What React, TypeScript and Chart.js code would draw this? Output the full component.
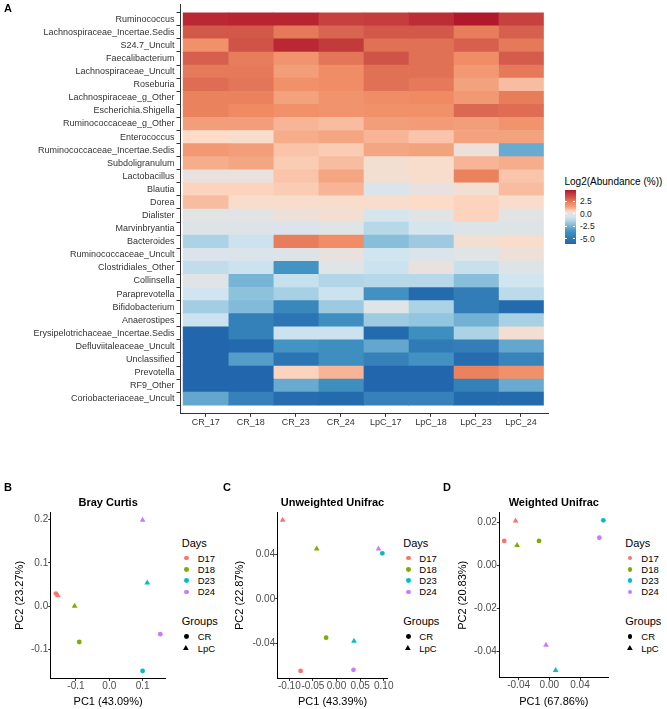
import React, { useEffect, useRef } from 'react';
import { Chart, registerables } from 'chart.js';

Chart.register(...registerables);

const FONT = '"Liberation Sans", Arial, Helvetica, sans-serif';

// ---------------- Heatmap data ----------------
const taxa = [
  'Ruminococcus',
  'Lachnospiraceae_Incertae.Sedis',
  'S24.7_Uncult',
  'Faecalibacterium',
  'Lachnospiraceae_Uncult',
  'Roseburia',
  'Lachnospiraceae_g_Other',
  'Escherichia.Shigella',
  'Ruminococcaceae_g_Other',
  'Enterococcus',
  'Ruminococcaceae_Incertae.Sedis',
  'Subdoligranulum',
  'Lactobacillus',
  'Blautia',
  'Dorea',
  'Dialister',
  'Marvinbryantia',
  'Bacteroides',
  'Ruminococcaceae_Uncult',
  'Clostridiales_Other',
  'Collinsella',
  'Paraprevotella',
  'Bifidobacterium',
  'Anaerostipes',
  'Erysipelotrichaceae_Incertae.Sedis',
  'Defluviitaleaceae_Uncult',
  'Unclassified',
  'Prevotella',
  'RF9_Other',
  'Coriobacteriaceae_Uncult',
];

const samples = ['CR_17', 'CR_18', 'CR_23', 'CR_24', 'LpC_17', 'LpC_18', 'LpC_23', 'LpC_24'];

const CR_17 = [4.3, 3.2, 1.8, 3.0, 2.4, 2.7, 2.2, 2.2, 1.4, 0.5, 1.6, 1.1, 0.1, 0.6, 0.9, -0.1, -0.3, -1.5, -0.4, -1.1, -0.2, -0.8, -1.7, -0.9, -6.0, -6.0, -6.0, -6.0, -6.0, -2.9];
const CR_18 = [4.4, 3.2, 3.3, 2.3, 2.4, 2.5, 2.2, 2.0, 1.4, 0.4, 1.4, 1.2, 0.1, 0.6, 0.4, -0.1, -0.3, -0.9, -0.4, -0.9, -2.5, -2.1, -2.3, -4.6, -4.6, -5.9, -3.2, -6.0, -6.0, -4.5];
const CR_23 = [4.4, 2.4, 4.3, 1.7, 1.4, 1.8, 1.3, 1.8, 1.0, 1.1, 0.8, 0.7, 0.8, 0.7, 0.4, 0.2, -0.4, 2.3, -0.3, -3.5, -1.0, -1.6, -4.2, -5.2, -0.9, -3.5, -5.2, 0.6, -2.8, -5.7];
const CR_24 = [3.7, 2.9, 3.9, 2.5, 1.9, 1.9, 1.7, 1.7, 0.9, 1.2, 0.7, 0.9, 1.2, 1.0, 0.4, 0.3, -0.2, 1.9, 0.1, -0.2, -1.4, -0.9, -1.8, -3.8, -0.9, -3.8, -3.8, 1.0, -3.8, -5.8];
const LpC_17 = [3.8, 3.2, 2.6, 3.3, 2.6, 2.6, 1.9, 1.8, 1.4, 1.0, 1.2, 0.3, 0.3, -0.4, 0.4, -0.6, -1.3, -2.2, -0.8, -0.9, -1.3, -3.6, -0.2, -1.8, -5.8, -2.9, -4.5, -6.0, -6.0, -4.5];
const LpC_18 = [4.2, 3.2, 2.6, 2.6, 2.6, 2.4, 2.0, 1.8, 1.5, 0.8, 1.3, 0.4, 0.4, 0.1, 0.5, -0.1, -0.6, -1.8, -0.4, 0.1, -1.3, -5.8, -1.5, -2.0, -3.8, -4.9, -3.6, -6.0, -6.0, -4.5];
const LpC_23 = [4.7, 2.3, 3.0, 1.9, 1.6, 1.3, 1.6, 2.8, 1.4, 1.3, 0.2, 1.0, 2.2, 0.3, 0.6, 0.6, -0.3, 0.3, -0.2, -1.0, -2.2, -4.8, -4.8, -2.6, -1.5, -4.7, -5.7, 2.2, -4.6, -5.8];
const LpC_24 = [3.7, 3.0, 2.4, 3.1, 2.4, 0.9, 2.3, 2.7, 1.7, 1.3, -2.8, 1.1, 0.8, 0.9, 0.4, -0.1, -0.3, 0.4, 0.2, -0.3, -0.8, -1.2, -5.8, -1.6, 0.3, -2.9, -4.4, 1.8, -2.8, -5.8];

const heatColumns = [CR_17, CR_18, CR_23, CR_24, LpC_17, LpC_18, LpC_23, LpC_24];

const colorbarTicks = [2.5, 0, -2.5, -5];
const colorbarMin = -6.06;
const colorbarMax = 4.7;

// ---------------- PCoA data (sample order = samples) ----------------
const days = ['D17', 'D18', 'D23', 'D24'];
const groups = ['CR', 'LpC'];

const brayPC1 = [-0.160, -0.090, 0.100, 0.153, -0.154, -0.104, 0.114, 0.100];
const brayPC2 = [0.029, -0.083, -0.150, -0.065, 0.024, 0.000, 0.054, 0.199];
const brayXTicks = [-0.1, 0, 0.1];
const brayYTicks = [-0.1, 0, 0.1, 0.2];

const unwPC1 = [-0.076, -0.022, 0.097, 0.036, -0.114, -0.042, 0.037, 0.089];
const unwPC2 = [-0.065, -0.035, 0.041, -0.064, 0.071, 0.045, -0.038, 0.045];
const unwXTicks = [-0.1, -0.05, 0, 0.05, 0.1];
const unwYTicks = [-0.04, 0, 0.04];

const wPC1 = [-0.0587, -0.0134, 0.0704, 0.0652, -0.044, -0.042, 0.0083, -0.0043];
const wPC2 = [0.0113, 0.0113, 0.0209, 0.0128, 0.0207, 0.0093, -0.0488, -0.0371];
const wXTicks = [-0.04, 0, 0.04];
const wYTicks = [-0.04, -0.02, 0, 0.02];

// ---------------- Styles ----------------
const dayColors = ['#F8766D', '#7CAE00', '#00BFC4', '#C77CFF'];

const colorStops: [number, number[]][] = [
  [-6.06, [33, 102, 172]],
  [-3.5, [67, 147, 195]],
  [-2.0, [146, 197, 222]],
  [-0.8, [209, 229, 240]],
  [0, [227, 227, 227]],
  [0.5, [253, 219, 199]],
  [1.2, [244, 165, 130]],
  [2.0, [239, 138, 98]],
  [3.0, [214, 96, 77]],
  [4.7, [178, 24, 43]],
];

function colorFor(v: number): string {
  const x = Math.max(colorStops[0][0], Math.min(colorStops[colorStops.length - 1][0], v));
  for (let i = 1; i < colorStops.length; i++) {
    const [v1, c1] = colorStops[i];
    const [v0, c0] = colorStops[i - 1];
    if (x <= v1) {
      const t = (x - v0) / (v1 - v0);
      const c = c0.map((a, k) => Math.round(a + (c1[k] - a) * t));
      return `rgb(${c[0]},${c[1]},${c[2]})`;
    }
  }
  const c = colorStops[colorStops.length - 1][1];
  return `rgb(${c[0]},${c[1]},${c[2]})`;
}

const dayOf = (i: number) => days.indexOf('D' + samples[i].split('_')[1]);
const groupOf = (i: number) => groups.indexOf(samples[i].split('_')[0]);

function fmt(v: number, dec: number) {
  const x = Math.abs(v) < 1e-12 ? 0 : v;
  return x.toFixed(dec);
}

function expand(vals: number[]): [number, number] {
  const mn = Math.min(...vals);
  const mx = Math.max(...vals);
  const r = mx - mn;
  return [mn - 0.05 * r, mx + 0.05 * r];
}

// ---------------- Layouts ----------------
const heatLayout = { left: 0, top: 0, width: 560, height: 440, plotLeft: 180, plotRight: 548, plotTop: 4.6, plotBottom: 413.4 };

const SC_TOP = 490;
const SC_H = 219;

type ScatterSpec = {
  title: string; pc1: number[]; pc2: number[]; xTicks: number[]; yTicks: number[];
  xDec: number; yDec: number; xTitle: string; yTitle: string;
  canvasLeft: number; canvasWidth: number; plotLeft: number; plotRight: number;
  plotTop: number; plotBottom: number; yTitleX: number;
  legendTitleX: number; legendMarkerX: number; legendTextX: number;
};

const scatterSpecs: ScatterSpec[] = [
  {
    title: 'Bray Curtis', pc1: brayPC1, pc2: brayPC2, xTicks: brayXTicks, yTicks: brayYTicks,
    xDec: 1, yDec: 1, xTitle: 'PC1 (43.09%)', yTitle: 'PC2 (23.27%)',
    canvasLeft: 0, canvasWidth: 175, plotLeft: 50.7, plotRight: 165.5, plotTop: 512.5, plotBottom: 678.5, yTitleX: 20,
    legendTitleX: 181.7, legendMarkerX: 186.3, legendTextX: 197.7,
  },
  {
    title: 'Unweighted Unifrac', pc1: unwPC1, pc2: unwPC2, xTicks: unwXTicks, yTicks: unwYTicks,
    xDec: 2, yDec: 2, xTitle: 'PC1 (43.39%)', yTitle: 'PC2 (22.87%)',
    canvasLeft: 222, canvasWidth: 178, plotLeft: 277.7, plotRight: 387.3, plotTop: 512.5, plotBottom: 678.5, yTitleX: 240,
    legendTitleX: 403.3, legendMarkerX: 408.3, legendTextX: 419.3,
  },
  {
    title: 'Weighted Unifrac', pc1: wPC1, pc2: wPC2, xTicks: wXTicks, yTicks: wYTicks,
    xDec: 2, yDec: 2, xTitle: 'PC1 (67.86%)', yTitle: 'PC2 (20.83%)',
    canvasLeft: 444, canvasWidth: 172, plotLeft: 499.3, plotRight: 608.3, plotTop: 512.8, plotBottom: 677.8, yTitleX: 462.7,
    legendTitleX: 625.3, legendMarkerX: 630, legendTextX: 641.3,
  },
];

// ---------------- Chart configs ----------------
function heatmapConfig(): any {
  const L = heatLayout;
  const datasets = samples.map((s, j) => ({
    label: s,
    data: taxa.map((_, i) => ({ x: 1, y: i })),
    backgroundColor: taxa.map((_, i) => colorFor(heatColumns[j][i])),
    borderWidth: 0,
    barPercentage: 1,
    categoryPercentage: 1,
  }));
  const tickFont = { family: FONT, size: 9, lineHeight: 1 };
  return {
    type: 'bar',
    data: { datasets },
    options: {
      indexAxis: 'y',
      animation: false,
      responsive: false,
      events: [],
      layout: { padding: { left: 0, top: L.plotTop - L.top, right: L.left + L.width - L.plotRight, bottom: 0 } },
      plugins: { legend: { display: false }, tooltip: { enabled: false }, title: { display: false } },
      scales: {
        x: {
          type: 'linear', stacked: true, min: -0.07, max: 8.1,
          afterBuildTicks: (s: any) => { s.ticks = samples.map((_, j) => ({ value: j + 0.5 })); },
          afterFit: (s: any) => { s.height = L.top + L.height - L.plotBottom; s.paddingLeft = 0; s.paddingRight = 0; },
          ticks: { autoSkip: false, maxRotation: 0, padding: 1.3, color: '#333', font: tickFont, callback: (_v: any, i: number) => samples[i] },
          grid: { display: true, drawOnChartArea: false, drawTicks: true, tickLength: 3.5, tickColor: '#333', tickWidth: 1 },
          border: { display: true, color: '#333', width: 1 },
        },
        y: {
          type: 'linear', stacked: true, reverse: true, min: -0.6, max: taxa.length - 0.4,
          afterBuildTicks: (s: any) => { s.ticks = taxa.map((_, i) => ({ value: i })); },
          afterFit: (s: any) => { s.width = L.plotLeft - L.left; s.paddingTop = 0; s.paddingBottom = 0; },
          ticks: { autoSkip: false, padding: 2, color: '#333', font: tickFont, callback: (v: any) => taxa[Math.round(v)] },
          grid: { display: true, drawOnChartArea: false, drawTicks: true, tickLength: 3.5, tickColor: '#333', tickWidth: 1 },
          border: { display: true, color: '#333', width: 1 },
        },
      },
    },
  };
}

function scatterConfig(spec: ScatterSpec): any {
  const [xmin, xmax] = expand(spec.pc1);
  const [ymin, ymax] = expand(spec.pc2);
  const datasets = days.map((d, k) => {
    const idx = samples.map((_, i) => i).filter((i) => dayOf(i) === k);
    return {
      label: d,
      data: idx.map((i) => ({ x: spec.pc1[i], y: spec.pc2[i] })),
      pointStyle: idx.map((i) => (groupOf(i) === 0 ? 'circle' : 'triangle')),
      pointRadius: idx.map((i) => (groupOf(i) === 0 ? 2.4 : 3.3)),
      backgroundColor: dayColors[k],
      borderColor: dayColors[k],
      borderWidth: 0,
    };
  });
  const titleCenter = 503;
  const tPadTop = titleCenter - SC_TOP - 6.6;
  const tPadBottom = spec.plotTop - SC_TOP - tPadTop - 13.2;
  const tickFont = { family: FONT, size: 10, lineHeight: 1 };
  const axisTitleFont = { family: FONT, size: 11, lineHeight: 1.2 };
  return {
    type: 'scatter',
    data: { datasets },
    options: {
      animation: false,
      responsive: false,
      events: [],
      layout: { padding: { left: 0, top: 0, right: spec.canvasLeft + spec.canvasWidth - spec.plotRight, bottom: 0 } },
      plugins: {
        legend: { display: false },
        tooltip: { enabled: false },
        title: {
          display: true, text: spec.title, fullSize: false, color: '#000',
          font: { family: FONT, size: 11, weight: 'bold', lineHeight: 1.2 },
          padding: { top: tPadTop, bottom: tPadBottom },
        },
      },
      scales: {
        x: {
          type: 'linear', min: xmin, max: xmax,
          afterBuildTicks: (s: any) => { s.ticks = spec.xTicks.map((v) => ({ value: v })); },
          afterFit: (s: any) => { s.height = SC_TOP + SC_H - spec.plotBottom; s.paddingLeft = 0; s.paddingRight = 0; },
          ticks: { autoSkip: false, maxRotation: 0, padding: 0, color: '#4D4D4D', font: tickFont, callback: (v: any) => fmt(v, spec.xDec) },
          grid: { display: true, drawOnChartArea: false, drawTicks: true, tickLength: 2.5, tickColor: '#333', tickWidth: 1 },
          border: { display: true, color: '#000', width: 1 },
          title: { display: true, text: spec.xTitle, color: '#000', font: axisTitleFont, padding: { top: 0, bottom: 0.7 } },
        },
        y: {
          type: 'linear', min: ymin, max: ymax,
          afterBuildTicks: (s: any) => { s.ticks = spec.yTicks.map((v) => ({ value: v })); },
          afterFit: (s: any) => { s.width = spec.plotLeft - spec.canvasLeft; s.paddingTop = 0; s.paddingBottom = 0; },
          ticks: { autoSkip: false, padding: 0, color: '#4D4D4D', font: tickFont, callback: (v: any) => fmt(v, spec.yDec) },
          grid: { display: true, drawOnChartArea: false, drawTicks: true, tickLength: 2.5, tickColor: '#333', tickWidth: 1 },
          border: { display: true, color: '#000', width: 1 },
          title: { display: true, text: spec.yTitle, color: '#000', font: axisTitleFont, padding: { top: spec.yTitleX - spec.canvasLeft - 6.6, bottom: 0 } },
        },
      },
    },
  };
}

// ---------------- Components ----------------
function ChartCanvas({ make, left, top, width, height }: { make: () => any; left: number; top: number; width: number; height: number }) {
  const ref = useRef<HTMLCanvasElement>(null);
  useEffect(() => {
    const chart = new Chart(ref.current as HTMLCanvasElement, make());
    return () => chart.destroy();
  }, []);
  return <canvas ref={ref} width={width} height={height} style={{ position: 'absolute', left, top, width, height }} />;
}

function Label({ x, y, size, text, bold, color }: { x: number; y: number; size: number; text: string; bold?: boolean; color?: string }) {
  const lh = Math.round(size * 1.2);
  return (
    <div style={{ position: 'absolute', left: x, top: y - lh / 2, fontFamily: FONT, fontSize: size, lineHeight: lh + 'px', fontWeight: bold ? 700 : 400, color: color || '#000', whiteSpace: 'nowrap' }}>
      {text}
    </div>
  );
}

function Marker({ cx, cy, color, shape }: { cx: number; cy: number; color: string; shape: string }) {
  if (shape === 'circle') {
    const r = 2.4;
    return <div style={{ position: 'absolute', left: cx - r, top: cy - r, width: 2 * r, height: 2 * r, borderRadius: '50%', background: color }} />;
  }
  const r = 3.3;
  const w = r * Math.sqrt(3);
  const pts = `${w / 2},0 ${w},${1.5 * r} 0,${1.5 * r}`;
  return (
    <svg style={{ position: 'absolute', left: cx - w / 2, top: cy - r }} width={w} height={1.5 * r}>
      <polygon points={pts} fill={color} />
    </svg>
  );
}

function ScatterLegend({ spec }: { spec: ScatterSpec }) {
  const dayY0 = 558;
  const dayStep = 11.3;
  const grpY0 = 636.7;
  const grpStep = 11.6;
  return (
    <>
      <Label x={spec.legendTitleX} y={543} size={11} text="Days" />
      {days.map((d, k) => (
        <React.Fragment key={d}>
          <Marker cx={spec.legendMarkerX} cy={dayY0 + k * dayStep} color={dayColors[k]} shape="circle" />
          <Label x={spec.legendTextX} y={dayY0 + k * dayStep} size={9.5} text={d} />
        </React.Fragment>
      ))}
      <Label x={spec.legendTitleX} y={621.7} size={11} text="Groups" />
      {groups.map((g, k) => (
        <React.Fragment key={g}>
          <Marker cx={spec.legendMarkerX} cy={grpY0 + k * grpStep} color="#000" shape={k === 0 ? 'circle' : 'triangle'} />
          <Label x={spec.legendTextX} y={grpY0 + k * grpStep} size={9.5} text={g} />
        </React.Fragment>
      ))}
    </>
  );
}

function ColorbarLegend() {
  const barLeft = 564.5;
  const barTop = 190;
  const barW = 11;
  const barH = 54;
  const yOf = (v: number) => barTop + ((colorbarMax - v) / (colorbarMax - colorbarMin)) * barH;
  const n = 24;
  const stops: string[] = [];
  for (let i = 0; i <= n; i++) {
    const v = colorbarMax - (i / n) * (colorbarMax - colorbarMin);
    stops.push(`${colorFor(v)} ${((i / n) * 100).toFixed(2)}%`);
  }
  return (
    <>
      <Label x={564.5} y={181.7} size={10} text="Log2(Abundance (%))" />
      <div style={{ position: 'absolute', left: barLeft, top: barTop, width: barW, height: barH, background: `linear-gradient(to bottom, ${stops.join(', ')})` }} />
      {colorbarTicks.map((t) => (
        <React.Fragment key={t}>
          <div style={{ position: 'absolute', left: barLeft, top: yOf(t) - 0.5, width: 2.2, height: 1, background: '#fff' }} />
          <div style={{ position: 'absolute', left: barLeft + barW - 2.2, top: yOf(t) - 0.5, width: 2.2, height: 1, background: '#fff' }} />
          <Label x={580} y={yOf(t)} size={8.5} text={fmt(t, 1)} color="#222" />
        </React.Fragment>
      ))}
    </>
  );
}

export default function App() {
  useEffect(() => {
    document.body.style.background = '#fff';
  }, []);
  const L = heatLayout;
  return (
    <div style={{ position: 'absolute', left: 0, top: 0, width: 667, height: 709, background: '#fff', overflow: 'hidden' }}>
      <ChartCanvas make={heatmapConfig} left={L.left} top={L.top} width={L.width} height={L.height} />
      <ColorbarLegend />
      {scatterSpecs.map((s) => (
        <React.Fragment key={s.title}>
          <ChartCanvas make={() => scatterConfig(s)} left={s.canvasLeft} top={SC_TOP} width={s.canvasWidth} height={SC_H} />
          <ScatterLegend spec={s} />
        </React.Fragment>
      ))}
      <Label x={4} y={8} size={11} bold text="A" />
      <Label x={4} y={487} size={11} bold text="B" />
      <Label x={223} y={487} size={11} bold text="C" />
      <Label x={443} y={487} size={11} bold text="D" />
    </div>
  );
}
